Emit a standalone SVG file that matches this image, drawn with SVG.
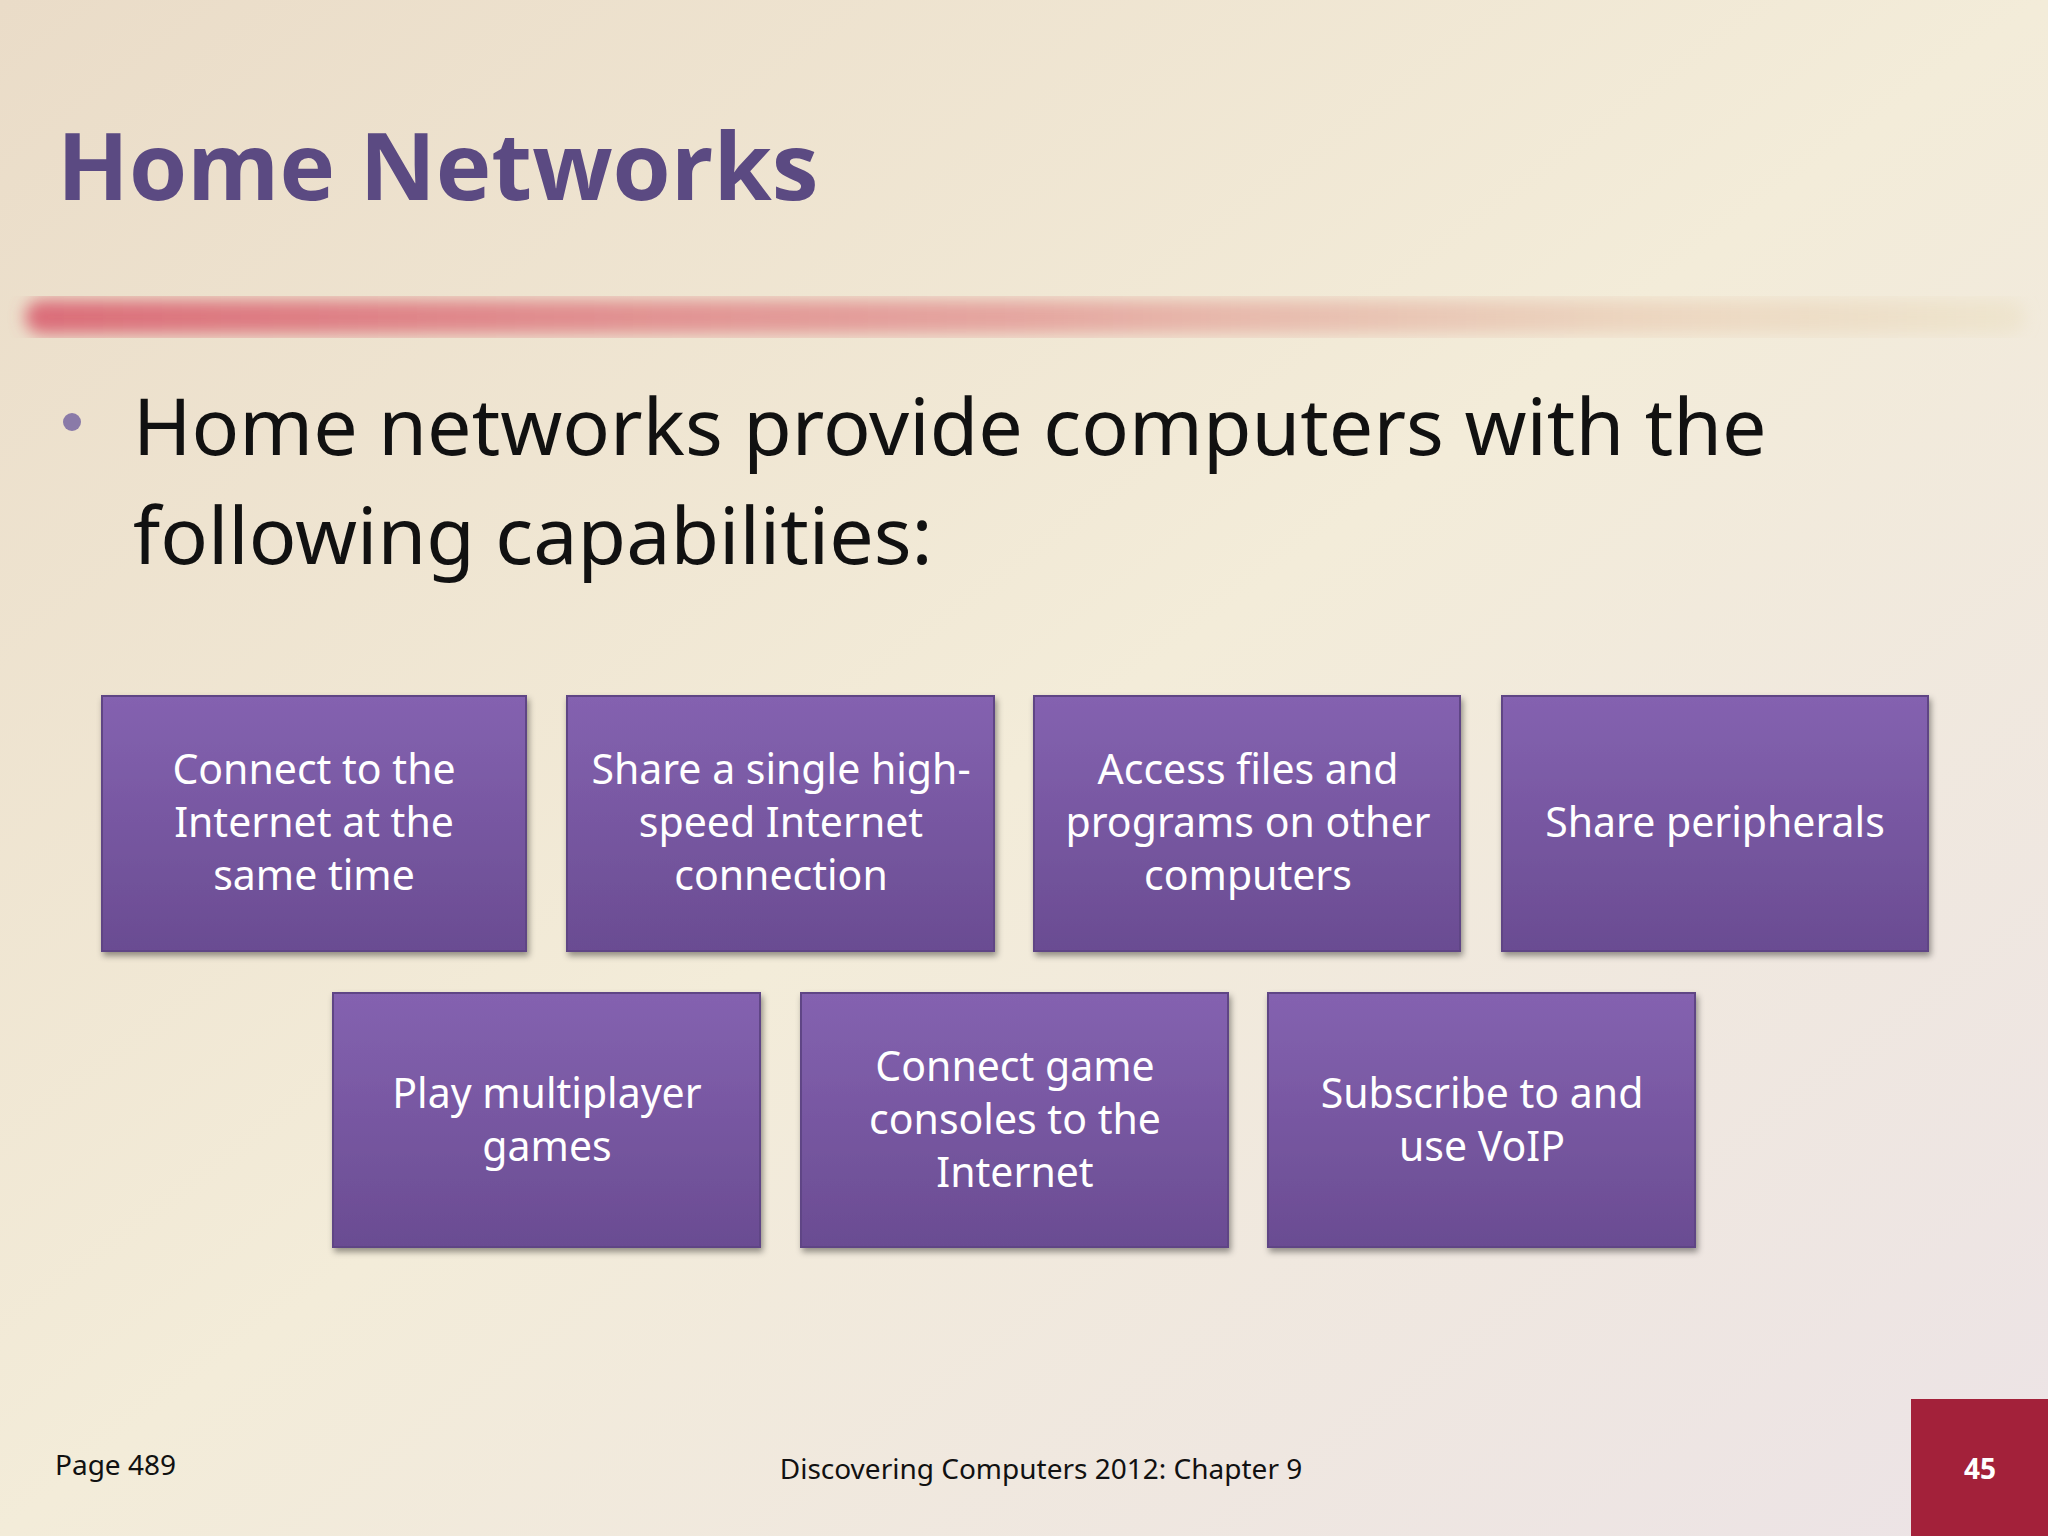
<svg xmlns="http://www.w3.org/2000/svg" width="2048" height="1536" viewBox="0 0 2048 1536">
<defs>
<linearGradient id="bg" x1="0" y1="0" x2="1" y2="1">
<stop offset="0" stop-color="#eadcc8"/><stop offset="0.5" stop-color="#f3ecd9"/><stop offset="1" stop-color="#ece3e6"/>
</linearGradient>
<linearGradient id="stripe" x1="0" y1="0" x2="1" y2="0">
<stop offset="0" stop-color="#d9606f" stop-opacity="0.9"/><stop offset="0.5" stop-color="#e08a8a" stop-opacity="0.7"/><stop offset="1" stop-color="#e6d8b0" stop-opacity="0.3"/>
</linearGradient>
<linearGradient id="box" x1="0" y1="0" x2="0" y2="1">
<stop offset="0" stop-color="#8462b0"/><stop offset="1" stop-color="#6a4c92"/>
</linearGradient>
<filter id="blur"><feGaussianBlur stdDeviation="8"/></filter>
<filter id="sh"><feDropShadow dx="2" dy="4" stdDeviation="3" flood-opacity="0.4"/></filter>
<style>
.b{fill:url(#box);stroke:#5e4585;stroke-width:2;filter:url(#sh)}
.t{font-family:"Noto Sans","Open Sans",sans-serif;font-size:41px;fill:#fff;text-anchor:middle}
.f{font-family:"Noto Sans",sans-serif;font-size:28px;fill:#111}
</style>
</defs>
<rect width="2048" height="1536" fill="url(#bg)"/>
<rect x="25" y="300" width="2000" height="34" rx="17" fill="url(#stripe)" filter="url(#blur)"/>
<text x="57" y="200" font-family="Open Sans,Noto Sans,sans-serif" font-weight="bold" font-size="94" fill="#5b4a82">Home Networks</text>
<circle cx="72" cy="422" r="9" fill="#8a7aa8"/>
<text font-family="Noto Sans,sans-serif" font-size="79" fill="#111"><tspan x="133" y="455">Home networks provide computers with the</tspan><tspan x="133" y="564">following capabilities:</tspan></text>
<g id="n1"><rect class="b" x="102" y="696" width="424" height="255"/><text class="t"><tspan x="314" y="784">Connect to the</tspan><tspan x="314" y="837">Internet at the</tspan><tspan x="314" y="890">same time</tspan></text></g>
<g id="n2"><rect class="b" x="567" y="696" width="427" height="255"/><text class="t"><tspan x="781" y="784">Share a single high-</tspan><tspan x="781" y="837">speed Internet</tspan><tspan x="781" y="890">connection</tspan></text></g>
<g id="n3"><rect class="b" x="1034" y="696" width="426" height="255"/><text class="t"><tspan x="1248" y="784">Access files and</tspan><tspan x="1248" y="837">programs on other</tspan><tspan x="1248" y="890">computers</tspan></text></g>
<g id="n4"><rect class="b" x="1502" y="696" width="426" height="255"/><text class="t"><tspan x="1715" y="837">Share peripherals</tspan></text></g>
<g id="n5"><rect class="b" x="333" y="993" width="427" height="254"/><text class="t"><tspan x="547" y="1108">Play multiplayer</tspan><tspan x="547" y="1161">games</tspan></text></g>
<g id="n6"><rect class="b" x="801" y="993" width="427" height="254"/><text class="t"><tspan x="1015" y="1081">Connect game</tspan><tspan x="1015" y="1134">consoles to the</tspan><tspan x="1015" y="1187">Internet</tspan></text></g>
<g id="n7"><rect class="b" x="1268" y="993" width="427" height="254"/><text class="t"><tspan x="1482" y="1108">Subscribe to and</tspan><tspan x="1482" y="1161">use VoIP</tspan></text></g>
<g id="connectors"/>
<text class="f" x="55" y="1475">Page 489</text>
<text class="f" x="1041" y="1479" text-anchor="middle">Discovering Computers 2012: Chapter 9</text>
<rect x="1911" y="1399" width="137" height="137" fill="#a3213a"/>
<text x="1980" y="1479" text-anchor="middle" font-family="Noto Sans,sans-serif" font-weight="bold" font-size="28" fill="#fff">45</text>
</svg>
